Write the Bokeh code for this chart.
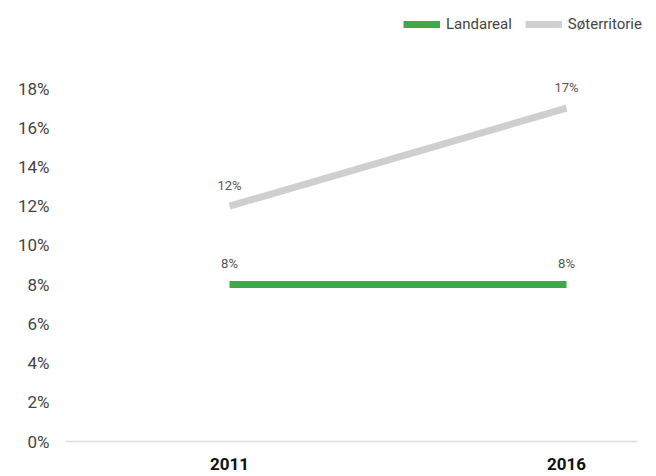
from bokeh.plotting import figure
from bokeh.models import ColumnDataSource, Range1d, FixedTicker, Legend, LegendItem, LabelSet
from bokeh.core.properties import value
from bokeh.embed import file_html
from bokeh.resources import INLINE

years = [2011, 2016]
year_labels = {2011: "2011", 2016: "2016"}
landareal = [8, 8]
soeterritorie = [12, 17]
y_ticks = [0, 2, 4, 6, 8, 10, 12, 14, 16, 18]

GREEN = "#3ea84b"
GREY = "#cfcfcf"
FONT = "Roboto"

X_START, X_END, AXIS_END = 2008.567, 2017.335, 2017.053

p = figure(width=656, height=476, output_backend="svg", toolbar_location=None,
           x_range=Range1d(X_START, X_END), y_range=Range1d(0, 22.08),
           min_border_left=65, min_border_right=0, min_border_top=8, min_border_bottom=35)
p.outline_line_color = None
p.xgrid.grid_line_color = None
p.ygrid.grid_line_color = None
p.background_fill_color = "white"
p.border_fill_color = "white"

src_l = ColumnDataSource(dict(x=years, y=landareal, t=[f"{v}%" for v in landareal]))
src_s = ColumnDataSource(dict(x=years, y=soeterritorie, t=[f"{v}%" for v in soeterritorie]))

r_s = p.line("x", "y", source=src_s, line_color=GREY, line_width=7, line_cap="butt")
r_l = p.line("x", "y", source=src_l, line_color=GREEN, line_width=7, line_cap="butt")

for src in (src_l, src_s):
    p.add_layout(LabelSet(x="x", y="y", text="t", source=src, text_align="center",
                          text_baseline="middle", y_offset=21, text_font=value(FONT),
                          text_font_size=value("13px"), text_color="#555555"))

p.yaxis.ticker = FixedTicker(ticks=y_ticks)
p.yaxis.major_label_overrides = {t: f"{t}%" for t in y_ticks}
p.yaxis.axis_line_color = None
p.yaxis.major_tick_line_color = None
p.yaxis.minor_tick_line_color = None
p.yaxis.major_tick_out = 0
p.yaxis.major_tick_in = 0
p.yaxis.major_label_standoff = 16
p.yaxis.major_label_text_font = FONT
p.yaxis.major_label_text_font_size = "17px"
p.yaxis.major_label_text_color = "#444444"

p.xaxis.ticker = FixedTicker(ticks=years)
p.xaxis.bounds = (X_START, AXIS_END)
p.xaxis.major_label_overrides = year_labels
p.xaxis.axis_line_color = "#dddddd"
p.xaxis.axis_line_width = 1.5
p.xaxis.major_tick_line_color = None
p.xaxis.minor_tick_line_color = None
p.xaxis.major_tick_out = 0
p.xaxis.major_tick_in = 0
p.xaxis.major_label_standoff = 16
p.xaxis.major_label_text_font = FONT
p.xaxis.major_label_text_font_size = "17px"
p.xaxis.major_label_text_font_style = "bold"
p.xaxis.major_label_text_color = "#111111"

legend = Legend(items=[LegendItem(label="Landareal", renderers=[r_l]),
                       LegendItem(label="Søterritorie", renderers=[r_s])],
                location=(338, 408), orientation="horizontal",
                glyph_width=37, glyph_height=14, label_standoff=6, spacing=13,
                padding=0, margin=0, border_line_color=None, background_fill_alpha=0,
                label_text_font=FONT, label_text_font_size="15px", label_text_color="#444444")
p.add_layout(legend)

open("out.html", "w").write(file_html(p, INLINE))
